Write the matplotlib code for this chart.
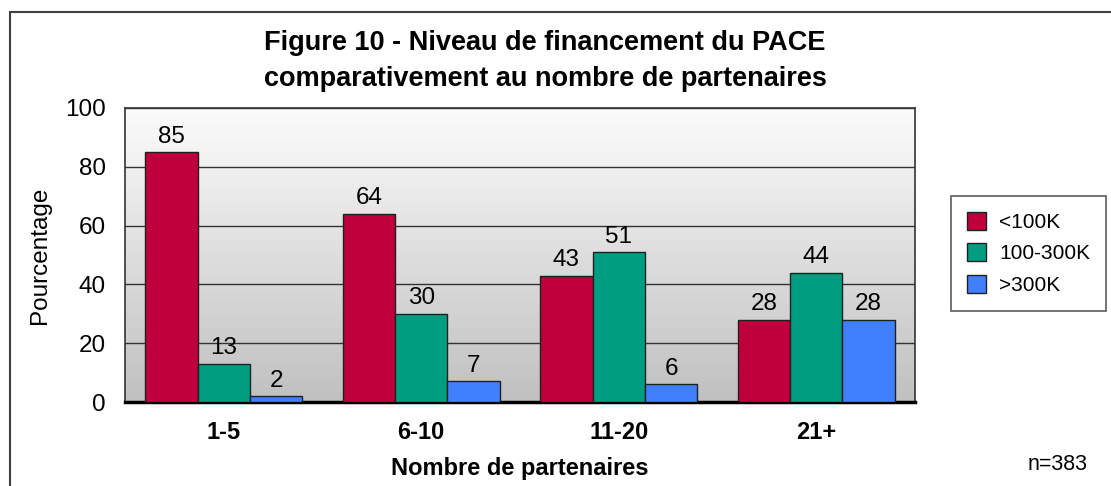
import numpy as np
import matplotlib
matplotlib.use("Agg")
import matplotlib.pyplot as plt
from matplotlib.patches import Rectangle
from matplotlib.colors import LinearSegmentedColormap

plt.rcParams['font.family'] = ['Liberation Sans', 'DejaVu Sans']

categories = ['1-5', '6-10', '11-20', '21+']
series_names = ['<100K', '100-300K', '>300K']
low = [85, 64, 43, 28]
mid = [13, 30, 51, 44]
high = [2, 7, 6, 28]
colors = ['#C0003C', '#009E80', '#4080FF']

fig = plt.figure(figsize=(11.11, 4.86), dpi=100)
ax = fig.add_axes([125/1111, 1-402/486, (915-125)/1111, (402-108)/486])

# gradient background (dark at bottom, light at top)
grad = np.linspace(0, 1, 256).reshape(-1, 1)
cmap = LinearSegmentedColormap.from_list('bg', ['#C0C0C0', '#FCFCFC'])
ax.imshow(grad, aspect='auto', cmap=cmap, extent=[-0.5, 3.5, 0, 100], origin='lower', zorder=0)

x = np.arange(len(categories))
w = 0.265
for i, (vals, c, name) in enumerate(zip([low, mid, high], colors, series_names)):
    pos = x + (i - 1) * w
    ax.bar(pos, vals, width=w, color=c, edgecolor='#202020', linewidth=1.0,
           label=name, zorder=3)
    for p, v in zip(pos, vals):
        ax.text(p, v + 1.5, str(v), ha='center', va='bottom', fontsize=17.5, zorder=4)

ax.set_xlim(-0.5, 3.5)
ax.set_ylim(0, 100)
ax.set_yticks([0, 20, 40, 60, 80, 100])
ax.yaxis.grid(True, color='#333333', linewidth=1.0, zorder=1)
ax.set_axisbelow(True)
ax.tick_params(axis='y', length=0, labelsize=17.5, pad=14)
ax.tick_params(axis='x', length=0, labelsize=17, pad=14)
ax.set_xticks(x)
ax.set_xticklabels(categories, fontweight='bold')
for s in ['left', 'top', 'right']:
    ax.spines[s].set_color('#333333')
    ax.spines[s].set_linewidth(1.2)
ax.spines['bottom'].set_color('#000000')
ax.spines['bottom'].set_linewidth(2.5)

ax.set_ylabel('Pourcentage', fontsize=17.5, labelpad=10)
ax.set_xlabel('Nombre de partenaires', fontsize=17, fontweight='bold', labelpad=9)

fig.text(545/1111, 1-61/486, 'Figure 10 - Niveau de financement du PACE\ncomparativement au nombre de partenaires',
         ha='center', va='center', fontsize=19.5, fontweight='bold', linespacing=1.55)

leg = fig.legend(loc='upper left', bbox_to_anchor=(951/1111, 1-196/486), fontsize=15,
                 frameon=True, fancybox=False, edgecolor='#333333', handlelength=0.95,
                 handleheight=0.95, borderpad=0.75, labelspacing=0.55, handletextpad=0.6,
                 borderaxespad=0)
leg.get_frame().set_linewidth(1.2)

fig.text(1088/1111, 1-464/486, 'n=383', ha='right', va='center', fontsize=15.5)

fig.patches.append(Rectangle((10/1111, -0.1), 1.2, (486-12)/486 + 0.1, transform=fig.transFigure,
                             fill=False, edgecolor='#404040', linewidth=1.5))

fig.savefig('out.png', dpi=100)
